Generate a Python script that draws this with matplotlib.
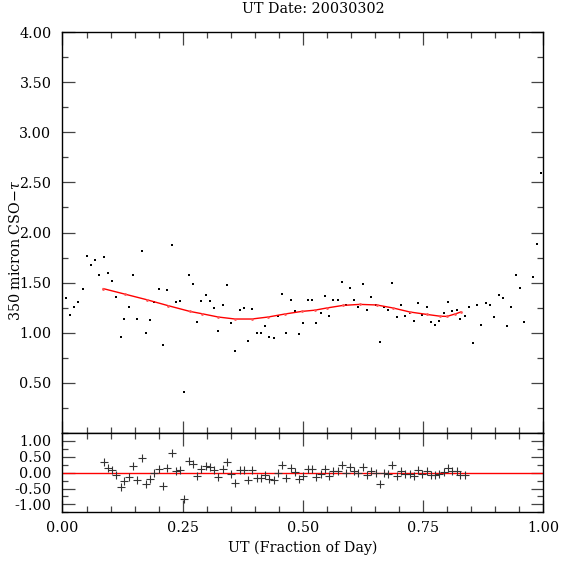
import numpy as np
import matplotlib
matplotlib.use("Agg")
import matplotlib.pyplot as plt
from matplotlib.ticker import MultipleLocator, FormatStrFormatter

# CSO tau measurements (UT fraction of day, 350 micron tau)
ut = [0.0066, 0.015, 0.024, 0.033, 0.042, 0.050, 0.059, 0.068, 0.077, 0.086,
      0.095, 0.103, 0.112, 0.121, 0.129, 0.138, 0.147, 0.156, 0.165, 0.174,
      0.183, 0.191, 0.200, 0.209, 0.218, 0.227, 0.236, 0.245, 0.253, 0.263,
      0.271, 0.280, 0.289, 0.298, 0.306, 0.315, 0.324, 0.333, 0.342, 0.351,
      0.360, 0.369, 0.377, 0.386, 0.395, 0.404, 0.413, 0.422, 0.430, 0.440,
      0.448, 0.457, 0.466, 0.475, 0.484, 0.493, 0.501, 0.510, 0.519, 0.527,
      0.537, 0.546, 0.554, 0.563, 0.573, 0.581, 0.590, 0.599, 0.607, 0.616,
      0.625, 0.634, 0.643, 0.652, 0.661, 0.669, 0.678, 0.686, 0.696, 0.704,
      0.713, 0.723, 0.731, 0.740, 0.749, 0.758, 0.767, 0.775, 0.784, 0.793,
      0.802, 0.811, 0.820, 0.828, 0.837, 0.846, 0.855, 0.863, 0.872, 0.881,
      0.890, 0.899, 0.908, 0.917, 0.926, 0.934, 0.943, 0.952, 0.961, 0.979,
      0.988, 0.996]
tau = [1.343, 1.173, 1.253, 1.303, 1.433, 1.763, 1.673, 1.723, 1.573, 1.753,
       1.593, 1.513, 1.353, 0.960, 1.140, 1.253, 1.573, 1.140, 1.813, 0.993,
       1.123, 1.310, 1.433, 0.873, 1.423, 1.873, 1.303, 1.313, 0.410, 1.573,
       1.483, 1.110, 1.320, 1.380, 1.320, 1.243, 1.020, 1.273, 1.473, 1.100,
       0.820, 1.223, 1.243, 0.920, 1.233, 0.993, 0.993, 1.063, 0.960, 0.943,
       1.163, 1.383, 0.993, 1.323, 1.213, 0.983, 1.093, 1.323, 1.323, 1.093,
       1.193, 1.363, 1.163, 1.323, 1.323, 1.503, 1.273, 1.443, 1.323, 1.253,
       1.483, 1.223, 1.353, 1.273, 0.910, 1.253, 1.223, 1.493, 1.153, 1.273,
       1.163, 1.193, 1.113, 1.293, 1.173, 1.253, 1.103, 1.080, 1.113, 1.200,
       1.303, 1.213, 1.223, 1.133, 1.163, 1.253, 0.900, 1.280, 1.073, 1.293,
       1.273, 1.153, 1.373, 1.343, 1.063, 1.253, 1.573, 1.443, 1.103, 1.553,
       1.883, 2.593]

# polynomial fit
fit_x = [0.085, 0.13, 0.175, 0.22, 0.265, 0.29, 0.324, 0.359, 0.394, 0.428,
         0.463, 0.498, 0.525, 0.55, 0.584, 0.619, 0.654, 0.688, 0.723, 0.758,
         0.786, 0.80, 0.817, 0.829]
fit_y = [1.44, 1.385, 1.33, 1.27, 1.213, 1.19, 1.157, 1.137, 1.137, 1.157,
         1.187, 1.213, 1.225, 1.247, 1.273, 1.283, 1.277, 1.247, 1.207, 1.183,
         1.165, 1.163, 1.187, 1.207]

# residuals (data - fit) inside the fitted range
res_x = ut[9:95]
res_y = [0.32, 0.16, 0.09, -0.06, -0.46, -0.27, -0.14, 0.20, -0.23, 0.47,
         -0.35, -0.20, 0.00, 0.13, -0.42, 0.15, 0.62, 0.05, 0.07, -0.82,
         0.37, 0.28, -0.09, 0.13, 0.22, 0.18, 0.07, -0.14, 0.13, 0.33,
         -0.03, -0.32, 0.09, 0.09, -0.23, 0.09, -0.16, -0.16, -0.08, -0.21,
         -0.23, 0.00, 0.23, -0.17, 0.16, 0.02, -0.20, -0.12, 0.11, 0.11,
         -0.14, -0.03, 0.13, -0.09, 0.06, 0.06, 0.25, 0.00, 0.17, 0.05,
         -0.02, 0.19, -0.06, 0.06, 0.00, -0.37, 0.00, -0.03, 0.25, -0.11,
         0.04, -0.03, -0.03, -0.09, 0.07, -0.03, 0.06, -0.08, -0.08, -0.04,
         0.02, 0.15, 0.05, 0.05, -0.08, -0.08]
res_x = res_x[:len(res_y)]

plt.rcParams['font.family'] = ['DejaVu Serif']
plt.rcParams['font.size'] = 10.3
plt.rcParams['mathtext.fontset'] = 'dejavuserif'

fig = plt.figure(figsize=(5.74, 5.74), dpi=100)
W, H = 574.0, 574.0
left, right = 62.5 / W, 543.0 / W
ax = fig.add_axes([left, 1 - 433 / H, right - left, (433 - 32) / H])
axr = fig.add_axes([left, 1 - 512.3 / H, right - left, (512.3 - 433) / H])


def style(a):
    for s in a.spines.values():
        s.set_linewidth(1.0)
        s.set_color('black')
    a.tick_params(which='both', direction='in', top=True, right=True,
                  color='#444444', width=0.9)
    a.tick_params(which='major', length=9, pad=8)
    a.tick_params(which='minor', length=4.5)
    a.xaxis.set_major_locator(MultipleLocator(0.25))
    a.xaxis.set_minor_locator(MultipleLocator(0.05))
    a.set_xlim(0, 1)


style(ax)
style(axr)

ax.plot(ut, tau, 's', color='black', markersize=1.7, markeredgewidth=0)
ax.plot(fit_x, fit_y, '-', color='red', linewidth=1.0)
ax.plot(fit_x, fit_y, '.', color='#ff5555', markersize=2)
ax.set_ylim(0, 4)
ax.set_yticks([0.5, 1.0, 1.5, 2.0, 2.5, 3.0, 3.5, 4.0])
ax.yaxis.set_minor_locator(MultipleLocator(0.25))
ax.yaxis.set_major_formatter(FormatStrFormatter('%.2f'))
ax.tick_params(axis='x', labelbottom=False)

axr.axhline(0, color='red', linewidth=1.0)
axr.plot(res_x, res_y, '+', color='#333333', markersize=5.5, markeredgewidth=0.8)
axr.set_ylim(-1.25, 1.25)
axr.set_yticks([-1.0, -0.5, 0.0, 0.5, 1.0])
axr.yaxis.set_minor_locator(MultipleLocator(0.25))
axr.yaxis.set_major_formatter(FormatStrFormatter('%.2f'))
axr.xaxis.set_major_formatter(FormatStrFormatter('%.2f'))
axr.tick_params(axis='x', which='major', pad=6)

fig.text(313.5 / W, 1 - 9 / H, 'UT Date: 20030302', ha='center', va='center')
fig.text(302.8 / W, 1 - 548 / H, 'UT (Fraction of Day)', ha='center', va='center')
fig.text(15 / W, 1 - 250 / H, '350 micron CSO$-\\tau$', ha='center', va='center',
         rotation=90)

fig.savefig('out.png', dpi=100)
